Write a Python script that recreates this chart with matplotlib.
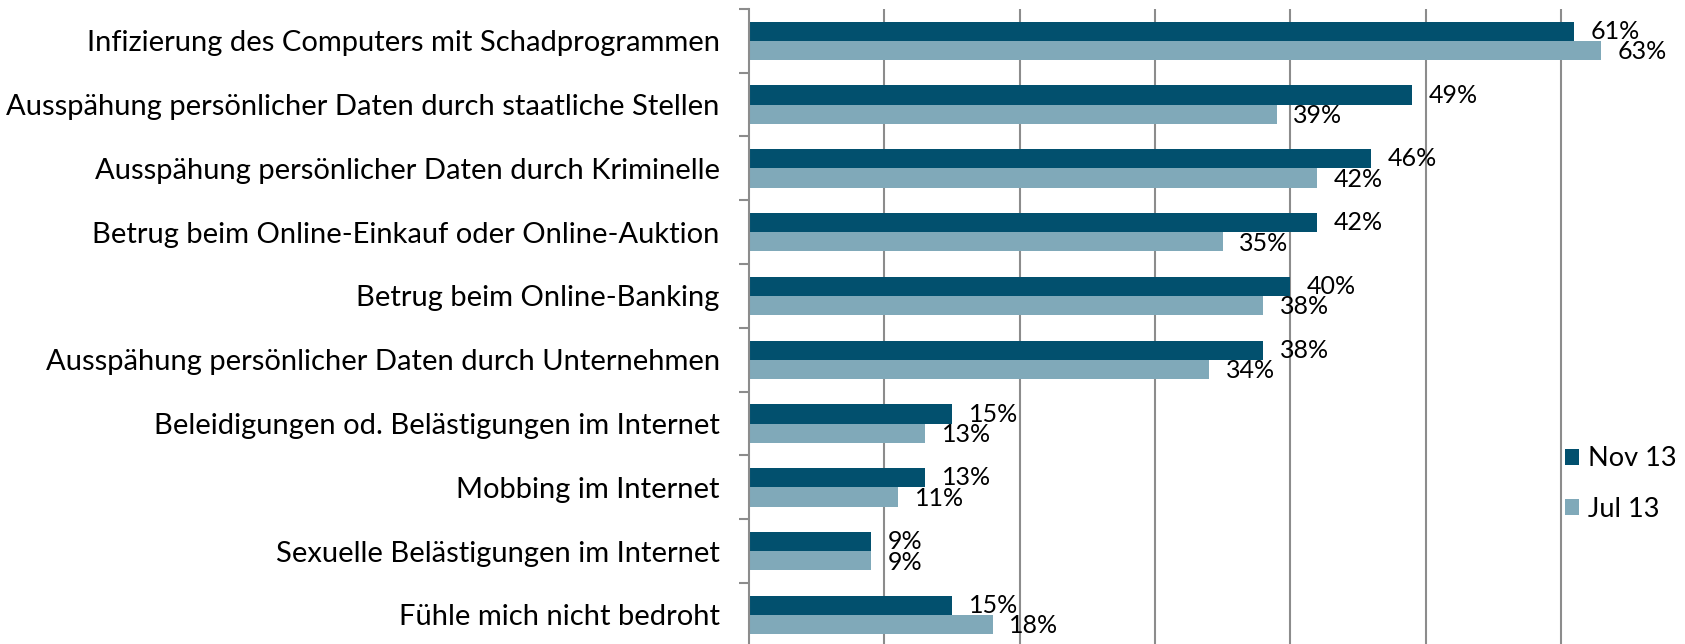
import matplotlib
matplotlib.use("Agg")
import matplotlib.pyplot as plt
import numpy as np

categories = [
    "Infizierung des Computers mit Schadprogrammen",
    "Ausspähung persönlicher Daten durch staatliche Stellen",
    "Ausspähung persönlicher Daten durch Kriminelle",
    "Betrug beim Online-Einkauf oder Online-Auktion",
    "Betrug beim Online-Banking",
    "Ausspähung persönlicher Daten durch Unternehmen",
    "Beleidigungen od. Belästigungen im Internet",
    "Mobbing im Internet",
    "Sexuelle Belästigungen im Internet",
    "Fühle mich nicht bedroht",
]
nov13 = [61, 49, 46, 42, 40, 38, 15, 13, 9, 15]
jul13 = [63, 39, 42, 35, 38, 34, 13, 11, 9, 18]
series_names = ["Nov 13", "Jul 13"]

DARK = "#02506e"
LIGHT = "#80a9b9"
GRID = "#8c8c8c"
FONT = "Lato"

W, H = 1685, 644
fig = plt.figure(figsize=(W / 100, H / 100), dpi=100)
ax = fig.add_axes([749 / W, -0.0045, 1 - 749 / W, 0.9907])

y = np.arange(len(categories))
bh = 0.3
b1 = ax.barh(y - bh / 2, nov13, height=bh, color=DARK, label=series_names[0], zorder=3)
b2 = ax.barh(y + bh / 2, jul13, height=bh, color=LIGHT, label=series_names[1], zorder=3)

ax.set_xlim(0, (W - 749) / 13.53)
ax.set_ylim(len(categories) - 0.5, -0.5)

for v, yy in zip(nov13, y - bh / 2):
    ax.annotate(f"{v}%", (v, yy), xytext=(12, 0), textcoords="offset points",
                va="center", ha="left", fontsize=18, family=FONT, color="#000000")
for v, yy in zip(jul13, y + bh / 2):
    ax.annotate(f"{v}%", (v, yy), xytext=(12, -1), textcoords="offset points",
                va="center", ha="left", fontsize=18, family=FONT, color="#000000")

ax.set_xticks(np.arange(10, 70, 10))
ax.xaxis.grid(True, color=GRID, linewidth=1.5, zorder=0)
ax.tick_params(axis="x", length=0, labelbottom=False)

ax.set_yticks(y)
ax.set_yticklabels(categories, family=FONT, fontsize=21)
ax.set_yticks(np.arange(-0.5, len(categories) + 0.5, 1), minor=True)
ax.tick_params(axis="y", which="major", length=0, pad=21)
ax.tick_params(axis="y", which="minor", length=7, width=1.5, color=GRID)

for s in ["top", "right", "bottom"]:
    ax.spines[s].set_visible(False)
ax.spines["left"].set_color(GRID)
ax.spines["left"].set_linewidth(1.5)
ax.spines["left"].set_zorder(4)

leg = fig.legend(handles=[b1, b2], labels=series_names, loc="center left",
                 bbox_to_anchor=(1565 / W, 1 - 484 / H), frameon=False,
                 prop={"family": FONT, "size": 19.5}, handlelength=0.5,
                 handleheight=0.5, handletextpad=0.35, labelspacing=0.93,
                 borderpad=0, borderaxespad=0)

fig.savefig("out.png", dpi=100)
